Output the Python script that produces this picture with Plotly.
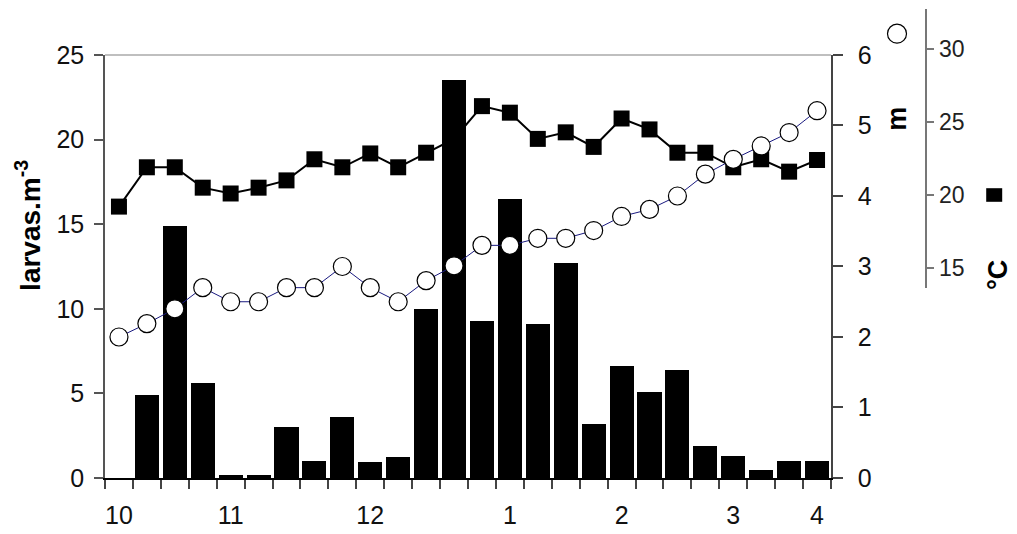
import plotly.graph_objects as go

# ---- data ----
months = ["10", "11", "12", "1", "2", "3", "4"]
month_pos = [0, 4, 9, 14, 18, 22, 25]
larvae = [0, 4.9, 14.9, 5.6, 0.2, 0.2, 3.0, 1.0, 3.6, 0.95, 1.25, 10.0, 23.5,
          9.3, 16.5, 9.1, 12.7, 3.2, 6.6, 5.1, 6.4, 1.9, 1.3, 0.5, 1.0, 1.0]
depth_m = [2.00, 2.19, 2.40, 2.70, 2.50, 2.50, 2.70, 2.70, 3.00, 2.70, 2.50, 2.80, 3.01,
           3.30, 3.30, 3.40, 3.40, 3.51, 3.71, 3.81, 4.00, 4.31, 4.52, 4.71, 4.90, 5.21]
temp_c = [19.2, 21.9, 21.9, 20.5, 20.1, 20.5, 21.0, 22.45, 21.9, 22.85, 21.9, 22.9, 23.85,
          26.1, 25.65, 23.85, 24.3, 23.3, 25.25, 24.5, 22.9, 22.9, 21.9, 22.45, 21.6, 22.4]
temp_ticks = [15, 20, 25, 30]
samples = list(range(len(larvae)))

FONT = "Liberation Sans, Arial, sans-serif"
XD = 0.80488      # x-domain end (plot area right edge)
YD = 0.90192      # main y-domain top

fig = go.Figure()
# temperature (drawn first, beneath bars)
fig.add_trace(go.Scatter(
    x=samples, y=temp_c, yaxis="y", mode="lines+markers",
    line=dict(color="black", width=2),
    marker=dict(symbol="square", size=16, color="black"),
    showlegend=False, cliponaxis=False))
# larvae bars
fig.add_trace(go.Bar(
    x=samples, y=larvae, yaxis="y2", width=0.86,
    marker=dict(color="black", line=dict(color="#333", width=0)),
    showlegend=False))
# depth
fig.add_trace(go.Scatter(
    x=samples, y=depth_m, yaxis="y3", mode="lines+markers",
    line=dict(color="#1a1a80", width=1),
    marker=dict(symbol="circle", size=18, color="white",
                line=dict(color="black", width=1.2)),
    showlegend=False, cliponaxis=False))

tickfont = dict(family=FONT, size=25, color="#111")

fig.update_layout(
    width=1017, height=534,
    margin=dict(l=97, r=18, t=1, b=64, autoexpand=False),
    paper_bgcolor="white", plot_bgcolor="rgba(0,0,0,0)",
    font=dict(family=FONT, color="#111"),
    bargap=0,
    xaxis=dict(
        domain=[0, XD], range=[-0.5, 25.5], anchor="y2", automargin=False,
        tickmode="array", tickvals=month_pos, ticktext=months,
        ticks="", ticklabelstandoff=14, tickfont=tickfont,
        minor=dict(tickmode="array", tickvals=[i - 0.5 for i in range(27)],
                   ticks="outside", ticklen=9, tickcolor="#444", tickwidth=1.5,
                   showgrid=False),
        showline=True, linecolor="black", linewidth=1.5,
        showgrid=False, zeroline=False),
    yaxis=dict(
        domain=[0.40512, 1], range=[13.61, 32.77], anchor="free", automargin=False,
        position=0.90987, side="right",
        tickmode="array", tickvals=temp_ticks,
        tickprefix="\u2002\u2009",
        ticks="outside", ticklen=8, tickcolor="#777", tickwidth=1.5,
        tickfont=dict(family=FONT, size=23, color="#222"),
        showline=True, linecolor="#777", linewidth=1.5,
        showgrid=False, zeroline=False),
    yaxis2=dict(
        domain=[0, YD], range=[0, 25], anchor="x", side="left", automargin=False,
        tickmode="linear", tick0=0, dtick=5,
        ticks="outside", ticklen=9, tickcolor="#555", tickwidth=1.5,
        ticklabelstandoff=5, tickfont=tickfont,
        showline=True, linecolor="#555", linewidth=1.5,
        showgrid=False, zeroline=False),
    yaxis3=dict(
        overlaying="y2", anchor="x", side="right", range=[0, 6], automargin=False,
        tickmode="linear", tick0=0, dtick=1,
        ticks="outside", ticklen=10, tickcolor="#444", tickwidth=1.5,
        ticklabelstandoff=10, tickfont=tickfont,
        showline=True, linecolor="#444", linewidth=1.5,
        showgrid=False, zeroline=False),
)

# axis titles
fig.add_annotation(text="<b>larvas.m<sup>-3</sup></b>", xref="paper", yref="paper",
                   x=-0.0855, y=0.5394, textangle=-90, showarrow=False,
                   xanchor="center", yanchor="middle",
                   font=dict(family=FONT, size=28, color="black"))
fig.add_annotation(text="<b>m</b>", xref="paper", yref="paper",
                   x=0.8777, y=0.7655, textangle=-90, showarrow=False,
                   xanchor="center", yanchor="middle",
                   font=dict(family=FONT, size=27, color="black"))
fig.add_annotation(text="<b>°C</b>", xref="paper", yref="paper",
                   x=0.9900, y=0.4328, textangle=-90, showarrow=False,
                   xanchor="center", yanchor="middle",
                   font=dict(family=FONT, size=27, color="black"))

# top border of plot area
fig.add_shape(type="line", xref="paper", yref="paper", x0=0, x1=XD, y0=YD, y1=YD,
              line=dict(color="#aaa", width=1.5))
# legend keys
fig.add_shape(type="circle", xref="paper", yref="paper",
              xsizemode="pixel", ysizemode="pixel",
              xanchor=0.87805, yanchor=0.94733, x0=-9.5, x1=9.5, y0=-9.5, y1=9.5,
              line=dict(color="black", width=1.2), fillcolor="white")
fig.add_shape(type="rect", xref="paper", yref="paper",
              xsizemode="pixel", ysizemode="pixel",
              xanchor=0.98581, yanchor=0.60341, x0=-8, x1=8, y0=-6.8, y1=6.8,
              line=dict(color="black", width=0), fillcolor="black")

fig.write_html("out.html")
